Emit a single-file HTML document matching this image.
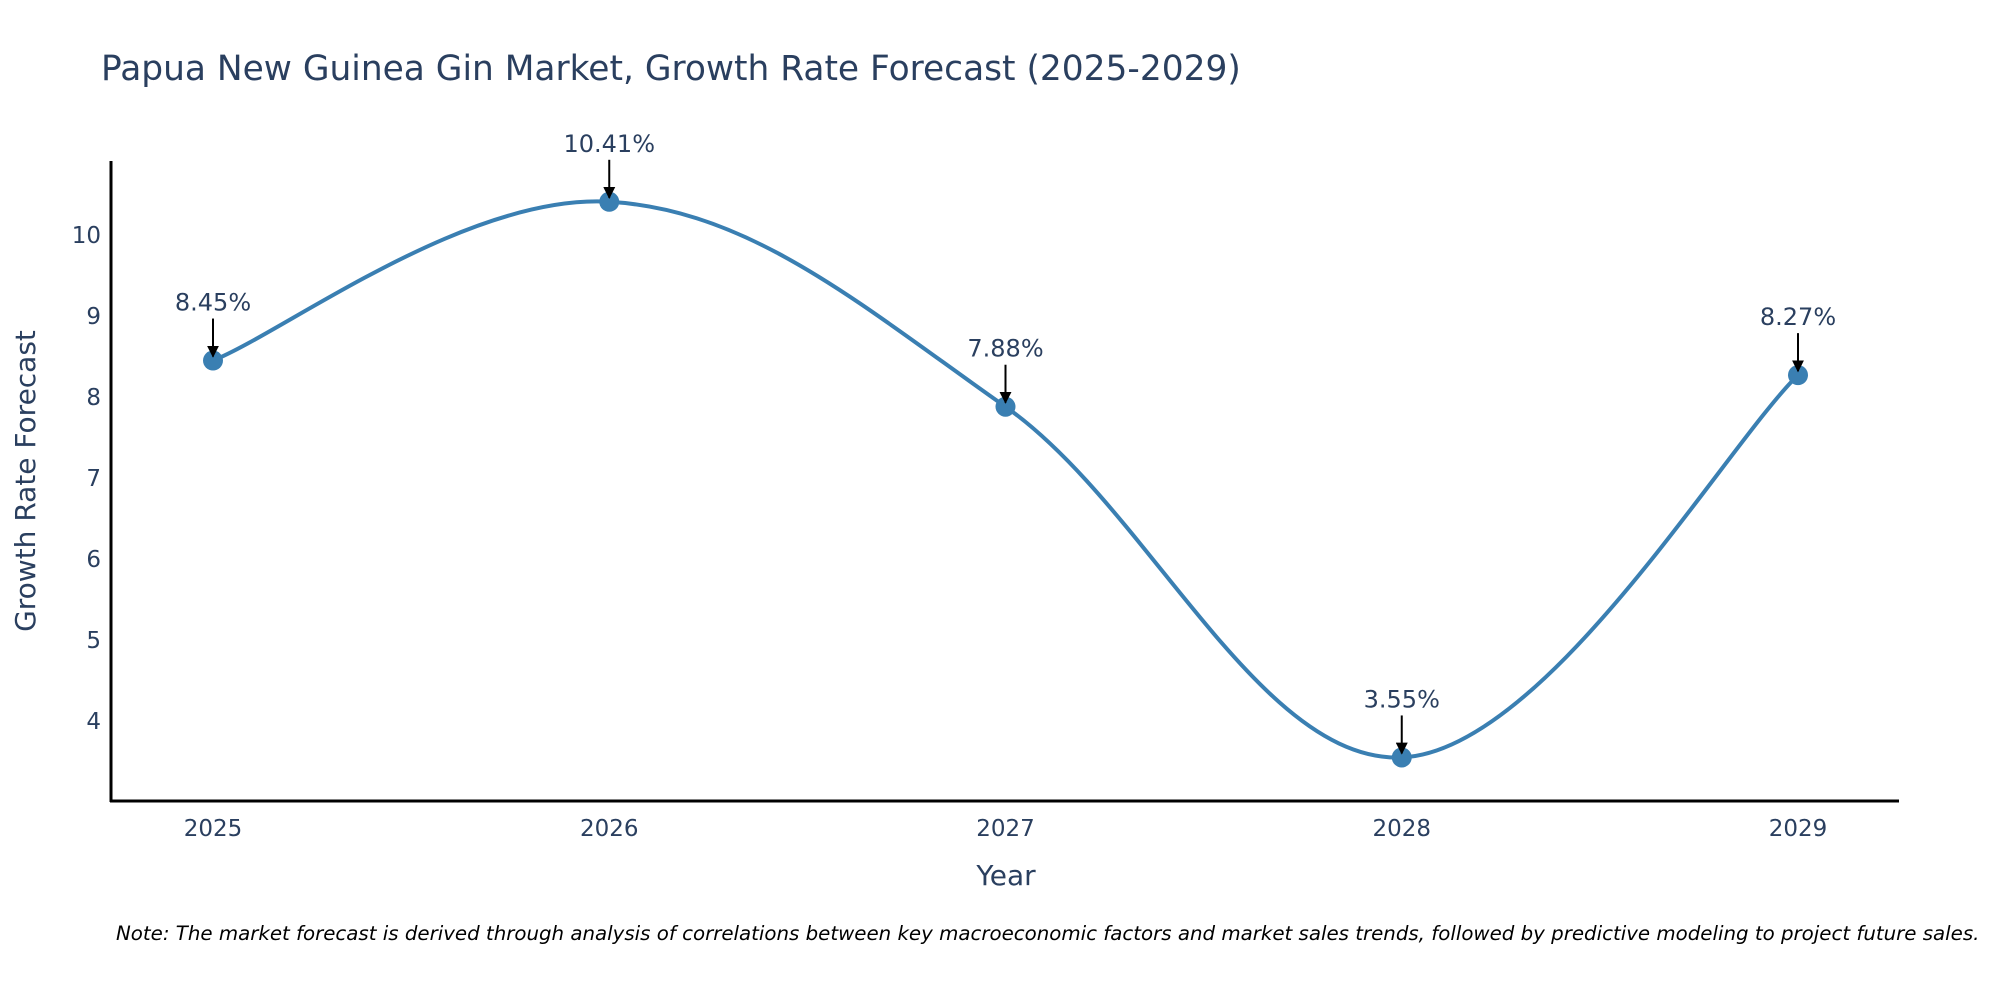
<!DOCTYPE html>
<html><head><meta charset="utf-8"><style>
body{margin:0;background:#fff;}
svg{display:block;font-family:"DejaVu Sans","Liberation Sans",sans-serif;}
</style></head><body>
<svg id="chart" width="2000" height="1000" viewBox="0 0 2000 1000">
<defs><marker id="ah" viewBox="0 0 10 10" refX="9" refY="5" markerWidth="6" markerHeight="6" orient="auto"><path d="M0,0 L10,5 L0,10 z" fill="#000"/></marker></defs>
<text x="101" y="80" font-size="34.4" fill="#2a3f5f">Papua New Guinea Gin Market, Growth Rate Forecast (2025-2029)</text>
<g id="yticks"></g><g id="xticks"></g>
<line x1="111" y1="161" x2="111" y2="802" stroke="#000" stroke-width="3"/>
<line x1="110" y1="801" x2="1899" y2="801" stroke="#000" stroke-width="3"/>
<text transform="translate(35,481) rotate(-90)" text-anchor="middle" font-size="28" fill="#2a3f5f">Growth Rate Forecast</text>
<text x="1006" y="885" text-anchor="middle" font-size="28" fill="#2a3f5f">Year</text>
<path id="line" fill="none" stroke="#3a7fb2" stroke-width="4"/>
<g id="marks"></g>
<text x="116" y="940" font-size="19.8" font-style="italic" fill="#000">Note: The market forecast is derived through analysis of correlations between key macroeconomic factors and market sales trends, followed by predictive modeling to project future sales.</text>
</svg>
<script>
const years=["2025","2026","2027","2028","2029"];
const values=[8.45,10.41,7.88,3.55,8.27];
const yTicks=[4,5,6,7,8,9,10];
const NS="http://www.w3.org/2000/svg";
function xs(i){return 213+i*396.25;}
function ys(v){return 721-(v-4)*81;}
function mk(t,a,p){const e=document.createElementNS(NS,t);for(const k in a)e.setAttribute(k,a[k]);p.appendChild(e);return e;}
const yt=document.getElementById('yticks');
yTicks.forEach(v=>{const t=mk('text',{x:101,y:ys(v)+8,'text-anchor':'end','font-size':23,fill:'#2a3f5f'},yt);t.textContent=v;

});
const xt=document.getElementById('xticks');
years.forEach((y,i)=>{const t=mk('text',{x:xs(i),y:836,'text-anchor':'middle','font-size':23,fill:'#2a3f5f'},xt);t.textContent=y;

});
const P=values.map((v,i)=>[xs(i),ys(v)]);
let d=`M${P[0][0]},${P[0][1]}`;const s=0.18;
for(let i=0;i<P.length-1;i++){const p0=P[Math.max(i-1,0)],p1=P[i],p2=P[i+1],p3=P[Math.min(i+2,P.length-1)];
d+=` C${p1[0]+(p2[0]-p0[0])*s},${p1[1]+(p2[1]-p0[1])*s} ${p2[0]-(p3[0]-p1[0])*s},${p2[1]-(p3[1]-p1[1])*s} ${p2[0]},${p2[1]}`;}
document.getElementById('line').setAttribute('d',d);
const g=document.getElementById('marks');
P.forEach((p,i)=>{const c=mk('circle',{cx:p[0],cy:p[1],r:10,fill:'#3a7fb2'},g);


const l=mk('line',{x1:p[0],y1:p[1]-42,x2:p[0],y2:p[1]-4,stroke:'#000','stroke-width':2,'marker-end':'url(#ah)'},g);


const t=mk('text',{x:p[0],y:p[1]-50,'text-anchor':'middle','font-size':24,fill:'#2a3f5f'},g);t.textContent=values[i].toFixed(2)+'%';

});
</script>
</body></html>
